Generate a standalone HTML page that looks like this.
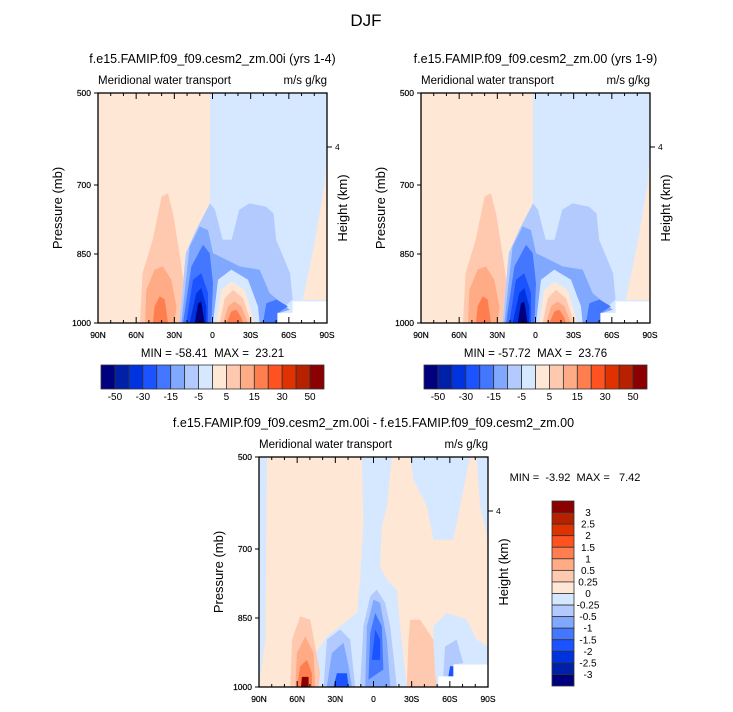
<!DOCTYPE html>
<html><head><meta charset="utf-8"><style>
html,body{margin:0;padding:0;background:#fff;}
svg{display:block;font-family:"Liberation Sans",Arial,sans-serif;}
.pre{white-space:pre;}
</style></head><body>
<svg id="fig" width="733" height="712" viewBox="0 0 733 712" xmlns="http://www.w3.org/2000/svg">
<text x="366" y="26" font-size="17" text-anchor="middle">DJF</text>
</svg>
<script>
// ---- data ----
const colors = ["#00007f","#0020a8","#0033e0","#1a53ff","#4477ff","#80a8ff","#b3caff","#d6e8ff","#ffe7d6","#ffc9b0","#ffab85","#ff7e4f","#ff5220","#e03200","#b82100","#8b0000"];
const hLabels = ["-50","-30","-15","-5","5","15","30","50"];
const vLabels = ["3","2.5","2","1.5","1","0.5","0.25","0","-0.25","-0.5","-1","-1.5","-2","-2.5","-3"];
const latTicks = [90,60,30,0,-30,-60,-90];
const latTickLabels = ["90N","60N","30N","0","30S","60S","90S"];
const presTicks = [500,700,850,1000];
// contour polygons: [colorIndex, [[lat,p],...]]
const contoursA = [
 [8, [[90,500],[2,500],[2,1000],[90,1000]]],
 [7, [[2,500],[-90,500],[-90,1000],[2,1000]]],
 [8, [[-90,620],[-88,700],[-80,830],[-71,950],[-90,950]]],
 [9, [[57,1000],[55,892],[47,819],[40,725],[35,718],[31,762],[26,848],[23,906],[26,1000]]],
 [10,[[53,1000],[52,928],[45.5,884],[39,877],[32.4,906],[28.4,964],[29.7,1000]]],
 [11,[[46.8,1000],[45.5,964],[41.5,942],[37.6,949],[35,1000]]],
 [6, [[26,1000],[21,848],[13,798],[2,740],[-2,754],[-8,819],[-15,819],[-21,754],[-29,740],[-42,747],[-48,762],[-50,819],[-61,892],[-63,949],[-51,978],[-37,1000]]],
 [5, [[24.5,1000],[18,834],[10.1,790],[3.5,798],[-0.4,848],[-21.4,877],[-37,884],[-44.9,935],[-60.7,971],[-52.8,978],[-44.9,1000]]],
 [7, [[-0.4,1000],[-4.3,906],[-14.8,884],[-27.9,906],[-35.8,964],[-37,1000]]],
 [8, [[-3,1000],[-6.9,928],[-14.8,910],[-25.3,928],[-33.1,1000]]],
 [9, [[-5.6,1000],[-9.6,946],[-16.1,928],[-24,946],[-30.5,1000]]],
 [10,[[-8.3,1000],[-12.2,964],[-17.4,953],[-22.7,964],[-27.9,1000]]],
 [11,[[-10.9,1000],[-14.8,975],[-18.7,971],[-22.7,989],[-24,1000]]],
 [4, [[23.2,1000],[16.6,877],[7.5,830],[2.2,848],[-0.4,913],[0.9,1000]]],
 [3, [[20.6,1000],[15.3,906],[8.8,892],[3.5,935],[3.5,1000]]],
 [2, [[18,1000],[12.7,935],[8.8,924],[4.9,964],[4.9,1000]]],
 [0, [[14,1000],[11.4,957],[8.8,953],[6.2,1000]]],
 [4, [[-39.7,1000],[-42.3,957],[-50.2,949],[-59.3,964],[-51.5,978],[-51.5,1000]]],
 [-1,[[-51,978],[-63,978],[-63,953],[-90,953],[-90,1000],[-51,1000]]]
];
const contoursC = [
 [8, [[90,500],[-90,500],[-90,1000],[90,1000]]],
 [7, [[90,500],[83.7,500],[85,897],[90,999]]],
 [7, [[9.2,500],[7.9,643],[10.5,767],[13.1,839],[26.2,868],[36.6,890],[47.1,933],[47.1,999],[-26.2,999],[-20.9,868],[-18.3,788],[-10.5,767],[-5.2,738],[-6.5,651],[-10.5,607],[-14.4,500]]],
 [7, [[-28.8,500],[-75.9,500],[-70.6,571],[-62.8,680],[-47.1,680],[-41.9,607],[-31.4,549]]],
 [7, [[-81.1,500],[-90,500],[-90,680],[-83.7,607]]],
 [7, [[-47.1,999],[-47.1,868],[-57.5,839],[-73.2,853],[-81.1,897],[-90,912],[-90,999]]],
 [9, [[65.4,999],[64.1,897],[57.6,846],[49.7,854],[45.8,912],[41.9,970],[43.2,999]]],
 [10,[[61.5,999],[60.2,926],[53.6,890],[47.1,926],[45.8,999]]],
 [11,[[60.2,999],[57.6,955],[52.3,941],[48.4,970],[48.4,999]]],
 [15,[[57,999],[56.3,978],[51,978],[51,999]]],
 [9, [[-26.2,999],[-27.5,897],[-28.8,854],[-36.6,854],[-47.1,897],[-48.4,970],[-49.7,999]]],
 [6, [[10.5,999],[7.9,868],[2.6,803],[-2.6,788],[-9.1,817],[-13.1,868],[-18.3,999]]],
 [5, [[6.5,999],[5.2,868],[0,810],[-5.2,817],[-10.5,897],[-13.1,999]]],
 [4, [[3.9,984],[2.6,883],[-1.3,839],[-6.5,868],[-7.8,962]]],
 [3, [[1.3,941],[-1.3,875],[-5.2,897],[-5.2,941]]],
 [6, [[39.2,999],[36.6,897],[26.2,875],[18.3,897],[14.4,999]]],
 [5, [[36.6,999],[32.7,926],[23.6,904],[19.6,955],[17,999]]],
 [3, [[31.4,999],[28.8,970],[20.9,970],[19.6,999]]],
 [6, [[-54.9,977],[-56.2,912],[-65.4,897],[-70.6,948],[-62.8,951],[-62.8,977]]],
 [3, [[-58.9,977],[-60.2,955],[-62.8,955],[-62.8,977]]],
 [-1,[[-51,977],[-62.8,977],[-62.8,951],[-90,951],[-90,1000],[-51,1000]]]
];
const panels = [
 {title:"f.e15.FAMIP.f09_f09.cesm2_zm.00i (yrs 1-4)", x0:98, y0:93, w:229, h:230, c:contoursA, stat:"MIN = -58.41  MAX =  23.21", name:"panel-a"},
 {title:"f.e15.FAMIP.f09_f09.cesm2_zm.00 (yrs 1-9)", x0:421, y0:93, w:229, h:230, c:contoursA, stat:"MIN = -57.72  MAX =  23.76", name:"panel-b"},
 {title:"f.e15.FAMIP.f09_f09.cesm2_zm.00i - f.e15.FAMIP.f09_f09.cesm2_zm.00", x0:259, y0:457, w:229, h:230, c:contoursC, stat:"MIN =  -3.92  MAX =   7.42", name:"panel-diff"}
];
// ---- drawing ----
const svg = document.getElementById('fig');
const NS = "http://www.w3.org/2000/svg";
function mk(tag, attrs, parent){const e=document.createElementNS(NS,tag);for(const k in attrs)e.setAttribute(k,attrs[k]);(parent||svg).appendChild(e);return e;}
function txt(s, attrs, parent){const e=mk('text',attrs,parent);e.textContent=s;return e;}

panels.forEach((P,pi)=>{
  const xs = lat => P.x0 + (90-lat)/180*P.w;
  const ys = p => P.y0 + (p-500)/500*P.h;
  const g = mk('g',{});
  
  
  P.c.forEach((poly,i)=>{
    const d = poly[1].map((pt,j)=>(j?'L':'M')+xs(pt[0]).toFixed(1)+','+ys(pt[1]).toFixed(1)).join('')+'Z';
    const e = mk('path',{d:d, fill: poly[0]<0?'#ffffff':colors[poly[0]], stroke:'none'}, g);
    
    
  });
  const fr = mk('rect',{x:P.x0,y:P.y0,width:P.w,height:P.h,fill:'none',stroke:'#000','stroke-width':1.3},g);
  
  
  for(let lat=90;lat>=-90;lat-=10){
    const x=xs(lat), major=(lat%30===0), L=major?6:3;
    mk('line',{x1:x,y1:P.y0+P.h,x2:x,y2:P.y0+P.h-L,stroke:'#000','stroke-width':1},g);
    mk('line',{x1:x,y1:P.y0,x2:x,y2:P.y0+L,stroke:'#000','stroke-width':1},g);
  }
  latTicks.forEach((lat,i)=>{
    const t=txt(latTickLabels[i],{x:xs(lat),y:P.y0+P.h+15,'font-size':8.5,'text-anchor':'middle','stroke':'#000','stroke-width':0.2},g);
    
    
  });
  presTicks.forEach(p=>{
    mk('line',{x1:P.x0,y1:ys(p),x2:P.x0-4,y2:ys(p),stroke:'#000','stroke-width':1},g);
    const t=txt(String(p),{x:P.x0-7,y:ys(p)+3,'font-size':8.5,'text-anchor':'end','stroke':'#000','stroke-width':0.2},g);
    
    
  });
  mk('line',{x1:P.x0+P.w,y1:P.y0+54,x2:P.x0+P.w+5,y2:P.y0+54,stroke:'#000','stroke-width':1},g);
  txt('4',{x:P.x0+P.w+8,y:P.y0+57,'font-size':8.5},g);
  const yt=txt('Pressure (mb)',{x:0,y:0,'font-size':13,'text-anchor':'middle',transform:`translate(${P.x0-36},${P.y0+P.h/2}) rotate(-90)`},g);
  
  
  const ht=txt('Height (km)',{x:0,y:0,'font-size':13,'text-anchor':'middle',transform:`translate(${P.x0+P.w+20},${P.y0+P.h/2}) rotate(-90)`},g);
  
  
  const tt=txt(P.title,{x:P.x0+P.w/2,y:P.y0-30,'font-size':12.5,'text-anchor':'middle'},g);
  
  
  const lt=txt('Meridional water transport',{x:P.x0,y:P.y0-9,'font-size':11.5},g);
  
  
  const ut=txt('m/s g/kg',{x:P.x0+P.w,y:P.y0-9,'font-size':11.5,'text-anchor':'end'},g);
  
  
  let st;
  if(pi<2){
    st=txt(P.stat,{x:P.x0+P.w/2,y:P.y0+P.h+34,'font-size':11.5,'text-anchor':'middle','class':'pre'},g);
    const bx=P.x0+3, bw=223/colors.length;
    colors.forEach((c,i)=>{
      const r=mk('rect',{x:bx+i*bw,y:365,width:bw,height:24,fill:c,stroke:'#333','stroke-width':0.8},g);
      
      
    });
    hLabels.forEach((s,i)=>{
      const t=txt(s,{x:bx+(1+2*i)*bw,y:400,'font-size':10,'text-anchor':'middle'},g);
      
      
    });
  } else {
    st=txt(P.stat,{x:575,y:481,'font-size':11,'text-anchor':'middle','class':'pre'},g);
    const by=501, bh=185/colors.length;
    colors.slice().reverse().forEach((c,i)=>{
      const r=mk('rect',{x:552,y:by+i*bh,width:22,height:bh,fill:c,stroke:'#333','stroke-width':0.8},g);
      
      
    });
    vLabels.forEach((s,i)=>{
      const t=txt(s,{x:588,y:by+(i+1)*bh+3.5,'font-size':10,'text-anchor':'middle'},g);
      
      
    });
  }
  
  
});
</script>
</body></html>
